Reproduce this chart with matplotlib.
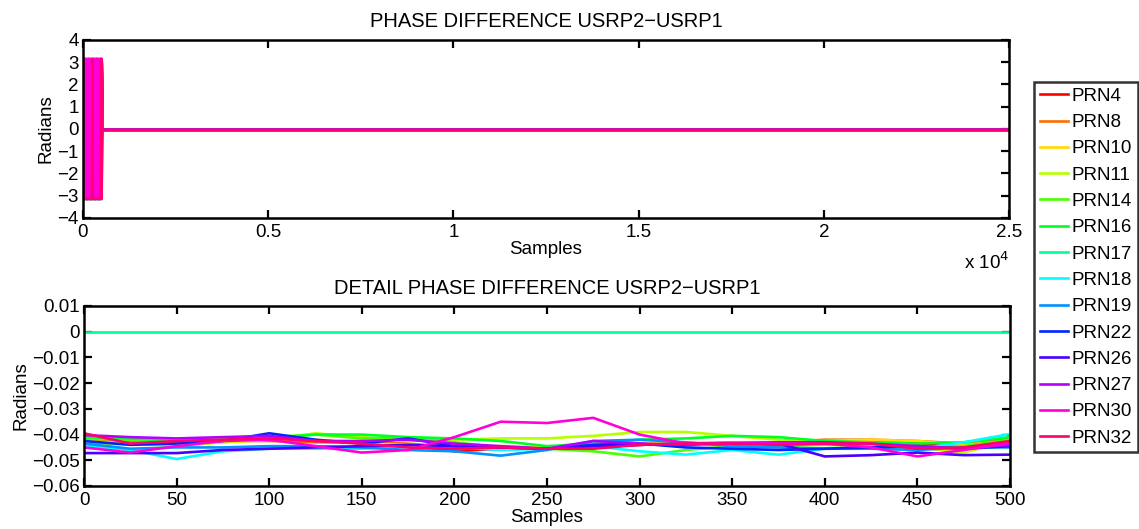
import matplotlib
matplotlib.use('Agg')
import matplotlib.pyplot as plt
from matplotlib.colors import hsv_to_rgb
from matplotlib.ticker import FuncFormatter

plt.rcParams['font.family'] = ['Liberation Sans', 'DejaVu Sans']
plt.rcParams['axes.unicode_minus'] = True

# ---------------- data ----------------
prn_labels = ['PRN4', 'PRN8', 'PRN10', 'PRN11', 'PRN14', 'PRN16', 'PRN17',
              'PRN18', 'PRN19', 'PRN22', 'PRN26', 'PRN27', 'PRN30', 'PRN32']

# detail window (samples 0..500)
detail_samples = [0, 25, 50, 75, 100, 125, 150, 175, 200, 225, 250,
                  275, 300, 325, 350, 375, 400, 425, 450, 475, 500]

prn4 = [-0.0405, -0.0435, -0.0430, -0.0425, -0.0420, -0.0425, -0.0430, -0.0440, -0.0465, -0.0455, -0.0450,
        -0.0445, -0.0440, -0.0435, -0.0432, -0.0430, -0.0435, -0.0430, -0.0435, -0.0440, -0.0415]
prn8 = [-0.0420, -0.0430, -0.0435, -0.0425, -0.0425, -0.0430, -0.0430, -0.0435, -0.0450, -0.0450, -0.0455,
        -0.0445, -0.0440, -0.0435, -0.0430, -0.0430, -0.0420, -0.0420, -0.0425, -0.0435, -0.0420]
prn10 = [-0.0425, -0.0435, -0.0440, -0.0430, -0.0420, -0.0420, -0.0435, -0.0440, -0.0445, -0.0445, -0.0450,
         -0.0440, -0.0435, -0.0430, -0.0435, -0.0435, -0.0425, -0.0420, -0.0425, -0.0440, -0.0425]
prn11 = [-0.0440, -0.0435, -0.0445, -0.0430, -0.0420, -0.0395, -0.0410, -0.0425, -0.0420, -0.0415, -0.0415,
         -0.0405, -0.0390, -0.0390, -0.0405, -0.0420, -0.0430, -0.0440, -0.0450, -0.0470, -0.0425]
prn14 = [-0.0415, -0.0420, -0.0425, -0.0420, -0.0410, -0.0400, -0.0415, -0.0410, -0.0430, -0.0450, -0.0455,
         -0.0465, -0.0485, -0.0460, -0.0445, -0.0445, -0.0440, -0.0445, -0.0450, -0.0445, -0.0420]
prn16 = [-0.0410, -0.0415, -0.0425, -0.0420, -0.0415, -0.0400, -0.0400, -0.0410, -0.0415, -0.0425, -0.0445,
         -0.0435, -0.0420, -0.0415, -0.0405, -0.0410, -0.0425, -0.0430, -0.0435, -0.0430, -0.0410]
prn17 = [0.0, 0.0, 0.0, 0.0, 0.0, 0.0, 0.0, 0.0, 0.0, 0.0, 0.0,
         0.0, 0.0, 0.0, 0.0, 0.0, 0.0, 0.0, 0.0, 0.0, 0.0]
prn18 = [-0.0445, -0.0460, -0.0495, -0.0465, -0.0455, -0.0455, -0.0455, -0.0445, -0.0450, -0.0460, -0.0455,
         -0.0445, -0.0465, -0.0478, -0.0460, -0.0478, -0.0455, -0.0450, -0.0455, -0.0430, -0.0398]
prn19 = [-0.0435, -0.0455, -0.0450, -0.0450, -0.0445, -0.0445, -0.0450, -0.0460, -0.0465, -0.0482, -0.0460,
         -0.0425, -0.0420, -0.0430, -0.0445, -0.0450, -0.0455, -0.0455, -0.0460, -0.0450, -0.0450]
prn22 = [-0.0425, -0.0440, -0.0435, -0.0425, -0.0395, -0.0420, -0.0435, -0.0415, -0.0445, -0.0450, -0.0455,
         -0.0440, -0.0435, -0.0450, -0.0455, -0.0460, -0.0455, -0.0450, -0.0445, -0.0455, -0.0445]
prn26 = [-0.0472, -0.0472, -0.0472, -0.0460, -0.0455, -0.0450, -0.0445, -0.0440, -0.0445, -0.0450, -0.0455,
         -0.0445, -0.0440, -0.0435, -0.0435, -0.0435, -0.0485, -0.0480, -0.0470, -0.0480, -0.0478]
prn27 = [-0.0402, -0.0410, -0.0415, -0.0410, -0.0405, -0.0425, -0.0425, -0.0420, -0.0435, -0.0445, -0.0455,
         -0.0425, -0.0435, -0.0440, -0.0435, -0.0430, -0.0430, -0.0435, -0.0445, -0.0455, -0.0440]
prn30 = [-0.0450, -0.0470, -0.0445, -0.0425, -0.0420, -0.0445, -0.0470, -0.0460, -0.0410, -0.0350, -0.0355,
         -0.0335, -0.0400, -0.0435, -0.0435, -0.0435, -0.0435, -0.0450, -0.0485, -0.0460, -0.0432]
prn32 = [-0.0395, -0.0435, -0.0425, -0.0420, -0.0415, -0.0425, -0.0435, -0.0450, -0.0455, -0.0450, -0.0455,
         -0.0455, -0.0440, -0.0435, -0.0435, -0.0440, -0.0435, -0.0435, -0.0455, -0.0450, -0.0425]

detail_values = [prn4, prn8, prn10, prn11, prn14, prn16, prn17,
                 prn18, prn19, prn22, prn26, prn27, prn30, prn32]

# full record: wrapped phase burst during acquisition, then settled value
burst_samples = [0, 18, 36, 54, 72, 90, 108, 126, 144, 162, 180, 198, 216, 234, 252,
                 270, 288, 306, 324, 342, 360, 378, 396, 414, 432, 450, 468, 486, 504]
burst_phase = [3.14, -3.14, 3.14, -3.14, 3.14, -3.14, 3.14, -3.14, 3.14, -3.14, 3.14, -3.14, 3.14, -3.14, 3.14,
               -3.14, 3.14, -3.14, 3.14, -3.14, 3.14, -3.14, 3.14, -3.14, 3.14, -3.14, 3.14, -3.14, 3.14]
burst32_samples = [0, 10, 240, 250, 260, 480, 490, 500]
burst32_phase = [3.14, -3.14, -3.14, 3.14, -3.14, -3.14, 3.14, -3.14]
settle_samples = [530, 25000]
settle_phase = [-0.04, -0.04]

# ---------------- figure ----------------
W, H = 1139, 529
fig = plt.figure(figsize=(W / 100, H / 100), dpi=100)

ax1 = fig.add_axes([83 / W, 1 - 218 / H, 926 / W, 178 / H])
ax2 = fig.add_axes([84 / W, 1 - 486 / H, 926 / W, 180 / H])

colors = [hsv_to_rgb((i / 14.0, 1.0, 1.0)) for i in range(14)]

FS = 13.5
LW = 1.9
for i, (lab, vals) in enumerate(zip(prn_labels, detail_values)):
    if lab == 'PRN32':
        xs = burst32_samples + settle_samples
        ys = burst32_phase + settle_phase
    else:
        xs = burst_samples + settle_samples
        ys = burst_phase + settle_phase
    ax1.plot(xs, ys, color=colors[i], lw=LW, label=lab)
    ax2.plot(detail_samples, vals, color=colors[i], lw=LW, label=lab)

fmt = FuncFormatter(lambda v, p: ('%g' % v).replace('-', '\u2212'))

ax1.set_xlim(0, 25000)
ax1.set_ylim(-4, 4)
ax1.set_xticks([0, 5000, 10000, 15000, 20000, 25000])
ax1.xaxis.set_major_formatter(FuncFormatter(lambda v, p: '%g' % (v / 1e4)))
ax1.set_yticks([-4, -3, -2, -1, 0, 1, 2, 3, 4])
ax1.yaxis.set_major_formatter(fmt)
ax1.set_title('PHASE DIFFERENCE USRP2\u2212USRP1', fontsize=FS + 1.0, pad=9)
ax1.set_xlabel('Samples', fontsize=FS, labelpad=0)
ax1.set_ylabel('Radians', fontsize=FS, labelpad=2)
ax1.text(1.0, -0.19, 'x 10$^4$', transform=ax1.transAxes, ha='right', va='top', fontsize=FS)

ax2.set_xlim(0, 500)
ax2.set_ylim(-0.06, 0.01)
ax2.set_xticks(list(range(0, 501, 50)))
ax2.set_yticks([-0.06, -0.05, -0.04, -0.03, -0.02, -0.01, 0, 0.01])
ax2.yaxis.set_major_formatter(fmt)
ax2.set_title('DETAIL PHASE DIFFERENCE USRP2\u2212USRP1', fontsize=FS + 1.0, pad=9)
ax2.set_xlabel('Samples', fontsize=FS, labelpad=0)
ax2.set_ylabel('Radians', fontsize=FS, labelpad=2)

for ax in (ax1, ax2):
    for s in ax.spines.values():
        s.set_linewidth(1.8)
    ax.tick_params(direction='in', top=True, right=True, length=6, width=1.6,
                   labelsize=FS)
    ax.tick_params(axis='x', pad=4.5)
    ax.tick_params(axis='y', pad=3)

handles, labels = ax2.get_legend_handles_labels()
leg = fig.legend(handles, labels, loc='upper left',
                 bbox_to_anchor=(1034 / W, 1 - 82 / H), borderaxespad=0,
                 fontsize=FS, frameon=True, fancybox=False, edgecolor='black',
                 handlelength=1.5, handletextpad=0.2, labelspacing=0.49,
                 borderpad=0.3)
leg.get_frame().set_linewidth(1.8)

fig.savefig('out.png', dpi=100)
